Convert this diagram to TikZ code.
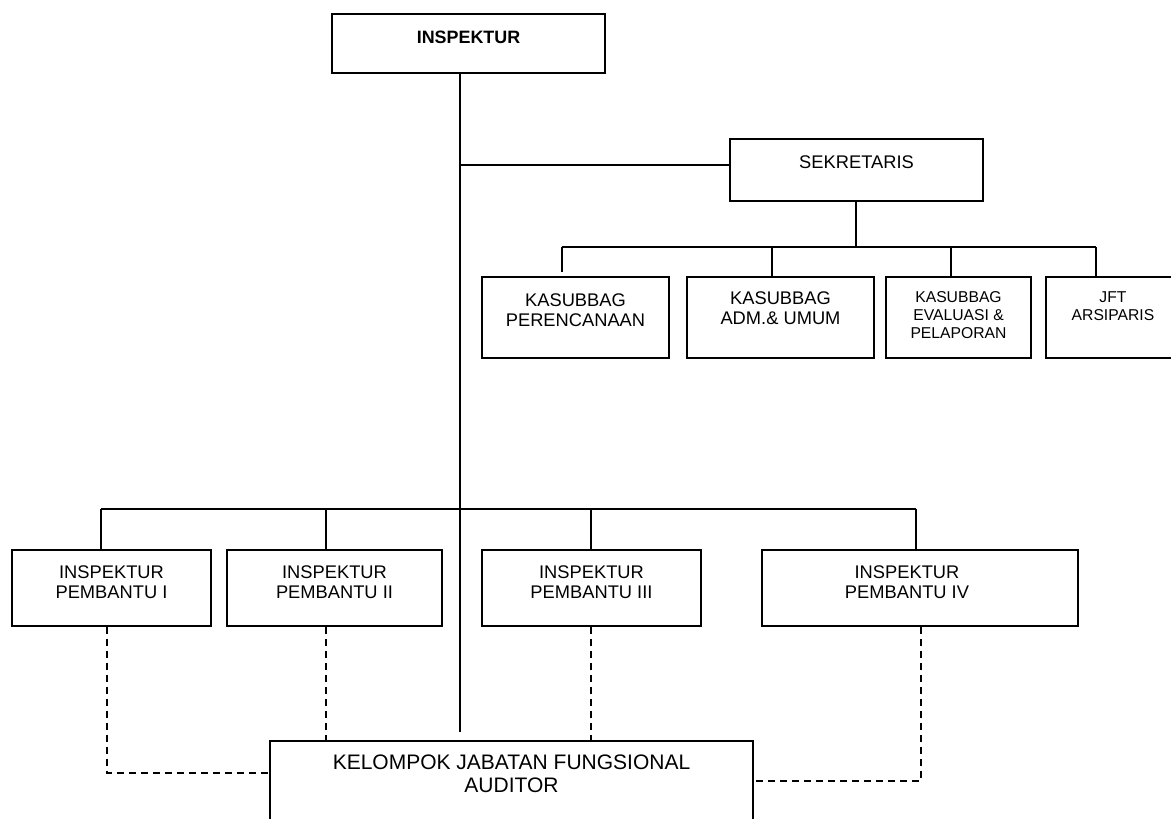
\documentclass[tikz,border=0pt]{standalone}
\usepackage{fontspec}
\setmainfont{Liberation Sans}
\begin{document}
\begin{tikzpicture}[x=1bp,y=-1bp,
  box/.style 2 args={draw, line width=1.6bp, inner sep=0pt, minimum width=#1 bp, minimum height=#2 bp},
  lbl/.style={font=\fontsize{18.3bp}{20bp}\selectfont, align=center, inner sep=0pt},
  lbls/.style={font=\fontsize{15.7bp}{17.8bp}\selectfont, align=center, inner sep=0pt},
  lblb/.style={font=\bfseries\fontsize{17.9bp}{20bp}\selectfont, align=center, inner sep=0pt},
  lblk/.style={font=\fontsize{21bp}{23bp}\selectfont, align=center, inner sep=0pt},
  conn/.style={line width=1.4bp},
  dsh/.style={line width=1.3bp, dash pattern=on 7bp off 5bp}]
\useasboundingbox (0,0) rectangle (1171,819);
\clip (0,0) rectangle (1171,819);
\fill[white] (0,0) rectangle (1171,819);

% top
\node[box={273}{59}, label={[lblb,yshift=6.5bp]center:INSPEKTUR}] (insp) at (468.5,43.5) {};
\node[box={253}{62}, label={[lbl,yshift=8bp]center:SEKRETARIS}] (sek) at (856.5,170) {};

% kasubbag row
\node[box={187}{81}, label={[lbl,yshift=7.5bp]center:{KASUBBAG\\PERENCANAAN}}] (k1) at (575.5,317.5) {};
\node[box={187}{81}, label={[lbl,yshift=9bp]center:{KASUBBAG\\ADM.\& UMUM}}] (k2) at (780.5,317.5) {};
\node[box={145}{81}, label={[lbls,yshift=2.5bp]center:{KASUBBAG\\EVALUASI \&\\PELAPORAN}}] (k3) at (958.5,317.5) {};
\node[box={134}{81}, label={[lbls,yshift=11bp]center:{JFT\\ARSIPARIS}}] (k4) at (1113,317.5) {};

% pembantu row
\node[box={199}{76}, label={[lbl,yshift=6bp]center:{INSPEKTUR\\PEMBANTU I}}] (b1) at (111.5,588) {};
\node[box={215}{76}, label={[lbl,yshift=6bp]center:{INSPEKTUR\\PEMBANTU II}}] (b2) at (334.5,588) {};
\node[box={219}{76}, label={[lbl,yshift=6bp]center:{INSPEKTUR\\PEMBANTU III}}] (b3) at (591.5,588) {};
\node[box={316}{76}, label={[lbl,yshift=6bp,xshift=-13bp]center:{INSPEKTUR\\PEMBANTU IV}}] (b4) at (920,588) {};

% bottom
\node[box={483}{100}, label={[lblk,anchor=north,yshift=-14bp]north:{KELOMPOK JABATAN FUNGSIONAL\\AUDITOR}}] (kjf) at (511.5,791) {};

% coordinates
\coordinate (mend) at (460,732);
\coordinate (sj) at (460,165);
\coordinate (sd) at (856,247);
\coordinate (q1) at (562,247);
\coordinate (q2) at (772,247);
\coordinate (q3) at (951,247);
\coordinate (q4) at (1096,247);
\coordinate (p1) at (101,509);
\coordinate (p2) at (326,509);
\coordinate (p3) at (591,509);
\coordinate (p4) at (916,509);
\coordinate (d1) at (107,773);
\coordinate (d2) at (326,700);
\coordinate (d3) at (591,700);
\coordinate (d4) at (921,781);

% solid connectors
\draw[conn] (insp.south -| mend) -- (mend);
\draw[conn] (sj) -- (sek.west |- sj);
\draw[conn] (sek.south -| sd) -- (sd);
\draw[conn] (q1) -- (q4);
\draw[conn, shorten >=4bp] (q1) -- (q1 |- k1.north);
\draw[conn] (q2) -- (q2 |- k2.north);
\draw[conn] (q3) -- (q3 |- k3.north);
\draw[conn] (q4) -- (q4 |- k4.north);
\draw[conn] (p1) -- (p4);
\draw[conn] (p1) -- (p1 |- b1.north);
\draw[conn] (p2) -- (p2 |- b2.north);
\draw[conn] (p3) -- (p3 |- b3.north);
\draw[conn] (p4) -- (p4 |- b4.north);

% dashed connectors
\draw[dsh] (b1.south -| d1) |- (kjf.west |- d1);
\draw[dsh] (b2.south -| d2) -- (kjf.north -| d2);
\draw[dsh] (b3.south -| d3) -- (kjf.north -| d3);
\draw[dsh] (b4.south -| d4) |- (kjf.east |- d4);
\end{tikzpicture}
\end{document}
